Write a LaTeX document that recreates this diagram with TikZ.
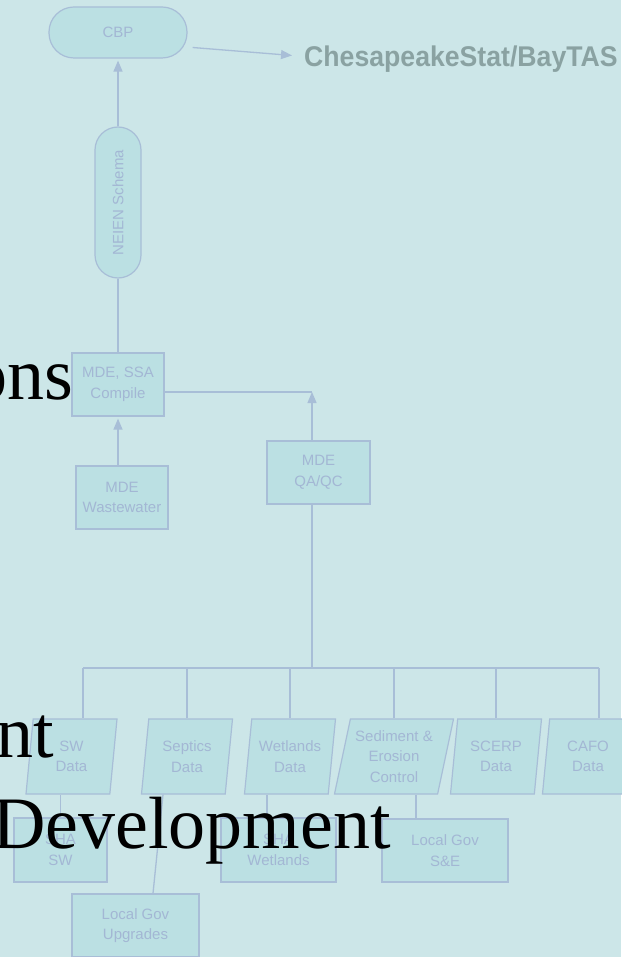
\documentclass[tikz,border=0pt]{standalone}
\usepackage{fontspec}
\setmainfont{Liberation Serif}
\setsansfont{Liberation Sans}
\usepackage{xcolor}
\usepackage{graphicx}
\usepackage{tikz}
\usetikzlibrary{arrows.meta,shapes.geometric}
\definecolor{bgcol}{RGB}{204,230,232}
\definecolor{boxcol}{RGB}{187,224,227}
\definecolor{linecol}{RGB}{168,190,215}
\definecolor{txtcol}{RGB}{163,183,212}
\definecolor{statcol}{RGB}{138,162,162}

\begin{document}
\begin{tikzpicture}[x=1pt,y=-1pt,>={Triangle[length=11pt,width=9pt]},
  conn/.style={draw=linecol,line width=1.3pt},
  arr/.style={conn,->,shorten >=2pt},
  box/.style={draw=linecol,line width=1.2pt,fill=boxcol,text=txtcol,
    font=\sffamily\fontsize{15}{20.5}\selectfont,align=center,inner sep=0pt},
  para/.style={box,trapezium,trapezium left angle=77,trapezium right angle=103,
    trapezium stretches body,minimum width=91pt,minimum height=75pt},
  big/.style={font=\fontsize{74}{80}\selectfont,text=black,inner sep=0pt}]
  % --- page ---
  \fill[bgcol] (0,0) rectangle (621,957);
  \useasboundingbox (0,0) rectangle (621,957);

  % --- top chain ---
  \node[box,rounded corners=25pt,minimum width=138pt,minimum height=51pt] (cbp) at (118,32.5) {CBP};
  \node[box,rounded corners=23pt,minimum width=46pt,minimum height=151pt] (neien) at (118,202.5) {\rotatebox{90}{NEIEN Schema}};
  \node[box,minimum width=92pt,minimum height=63pt] (ssa) at (118,384.5) {MDE, SSA\\Compile};
  \node[box,minimum width=92pt,minimum height=63pt] (ww) at (122,497.5) {MDE\\Wastewater};
  \node[box,minimum width=103pt,minimum height=63pt] (qa) at (318.5,472.5) {MDE\\QA/QC};
  \node[anchor=base west,inner sep=0pt,text=statcol,
        font=\sffamily\bfseries\fontsize{28.5}{32}\selectfont] (stat) at (304,67) {\scalebox{0.935}[1]{ChesapeakeStat/BayTAS}};

  \draw[arr] (neien.north) -- (cbp.south);
  \draw[conn] (ssa.north) -- (neien.south);
  \draw[arr] (ww.north -| ssa.south) -- (ssa.south);
  \draw[arr] ([xshift=5pt,yshift=-15pt]cbp.east) -- ([xshift=-10pt,yshift=4pt]stat.west);

  % --- QA/QC into compile ---
  \coordinate (qtop) at ([xshift=-6.5pt]qa.north);
  \coordinate (qbot) at ([xshift=-6.5pt]qa.south);
  \coordinate (sse) at ([yshift=-7.5pt]ssa.east);
  \draw[conn] (sse) -- (sse -| qtop);
  \draw[arr,shorten >=0pt] (qtop) -- (qtop |- sse);

  % --- data sources ---
  \foreach \nm/\xx/\txt in {swd/71.5/{SW\\Data},sep/187/{Septics\\Data},
      wet/290/{Wetlands\\Data},scp/496/{SCERP\\Data},caf/588/{CAFO\\Data}}
    \node[para] (\nm) at (\xx,756.5) {\txt};
  \node[para,minimum width=119pt,trapezium left angle=73,trapezium right angle=107]
    (sed) at (394,756.5) {Sediment \&\\Erosion\\Control};

  % --- bus ---
  \coordinate (busl) at (83,668);
  \coordinate (busr) at (599,668);
  \draw[conn] (qbot) -- (qbot |- busl);
  \draw[conn] (busl) -- (busr);
  \foreach \nm in {sep,wet,sed,scp}
    \draw[conn] (\nm.north) -- (\nm.north |- busl);
  \draw[conn] (busl) -- (busl |- swd.north);
  \draw[conn] (busr) -- (busr |- caf.north);

  % --- local boxes ---
  \node[box,minimum width=93pt,minimum height=64pt] (shasw) at (60.5,850) {SHA\\SW};
  \node[box,minimum width=115pt,minimum height=64pt] (shawet) at (278.5,850) {SHA\\Wetlands};
  \node[box,minimum width=126pt,minimum height=63pt] (lgse) at (445,850.5) {Local Gov\\S\&E};
  \node[box,minimum width=127pt,minimum height=63pt] (lgup) at (135.5,925.5) {Local Gov\\Upgrades};

  \coordinate (wtop) at ([xshift=-11.5pt]shawet.north);
  \coordinate (etop) at ([xshift=-29pt]lgse.north);
  \draw[conn] (shasw.north) -- (shasw.north |- swd.south);
  \draw[conn] (wtop) -- (wtop |- wet.south);
  \draw[conn] (etop) -- (etop |- sed.south);
  \draw[conn] ([xshift=17.5pt]lgup.north) -- ([xshift=-24pt]sep.south);

  % --- slide text on top ---
  \node[big,anchor=base east] (ons) at (73,399) {ons};
  \node[big,anchor=base east] (nt) at (54,757) {nt};
  \node[big,anchor=base east] (dev) at (391,848) {Development};
\end{tikzpicture}
\end{document}
